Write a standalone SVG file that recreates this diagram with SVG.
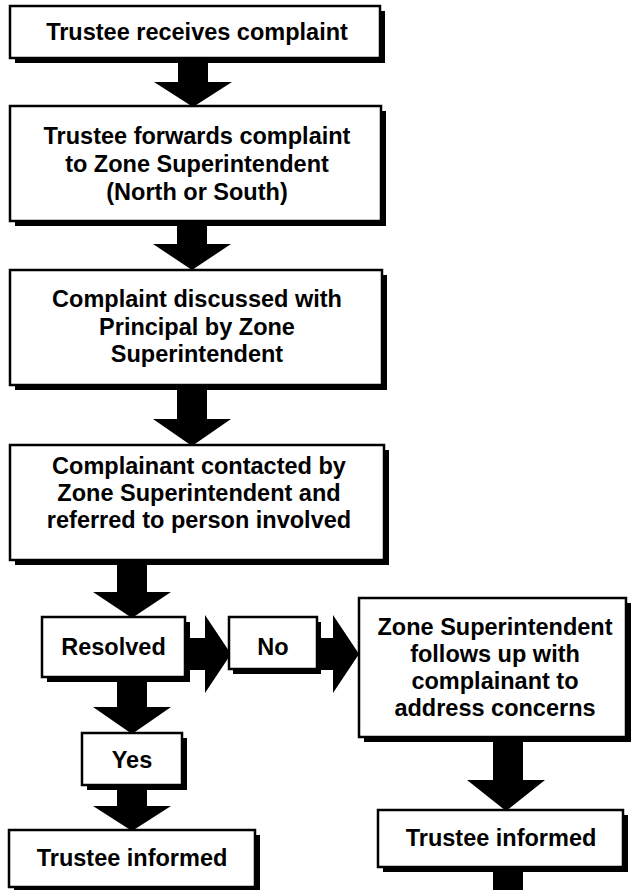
<svg xmlns="http://www.w3.org/2000/svg" width="642" height="890" viewBox="0 0 642 890">
<style>
.bx{fill:#fff;stroke:#000;stroke-width:2.5}
.sh{fill:#000}
.ar{fill:#000}
text{font-family:"Liberation Sans",Arial,sans-serif;font-weight:bold;font-size:23.5px;fill:#000;text-anchor:middle}
</style>
<rect width="642" height="890" fill="#fff"/>
<g id="connectors">
<polygon class="ar" points="178,56 208,56 208,82 232,82 193,107 154,82 178,82"/>
<polygon class="ar" points="177,219 207,219 207,244 231,244 192,270 153,244 177,244"/>
<polygon class="ar" points="177,383 207,383 207,419 231,419 192,446 153,419 177,419"/>
<polygon class="ar" points="117,558 147,558 147,592 171,592 132,618 93,592 117,592"/>
<polygon class="ar" points="117,675 147,675 147,707 171,707 132,734 93,707 117,707"/>
<polygon class="ar" points="117,783 147,783 147,806 171,806 132,831 93,806 117,806"/>
<polygon class="ar" points="493,735 523,735 523,780 545,780 506,811 467,780 493,780"/>
<polygon class="ar" points="493,865 523,865 523,890 493,890"/>
<polygon class="ar" points="183,638 205,638 205,615 231,654 205,693 205,670 183,670"/>
<polygon class="ar" points="315,638 333,638 333,615 359,654 333,693 333,670 315,670"/>
</g>
<g id="n1">
<rect class="sh" x="15" y="11" width="370" height="52"/>
<rect class="bx" x="10" y="6" width="370" height="52"/>
<text x="197" y="40">Trustee receives complaint</text>
</g>
<g id="n2">
<rect class="sh" x="15" y="111" width="371" height="115"/>
<rect class="bx" x="10" y="106" width="371" height="115"/>
<text x="197" y="144">Trustee forwards complaint</text>
<text x="197" y="172">to Zone Superintendent</text>
<text x="197" y="200">(North or South)</text>
</g>
<g id="n3">
<rect class="sh" x="15" y="275" width="372" height="115"/>
<rect class="bx" x="10" y="270" width="372" height="115"/>
<text x="197" y="307">Complaint discussed with</text>
<text x="197" y="335">Principal by Zone</text>
<text x="197" y="362">Superintendent</text>
</g>
<g id="n4">
<rect class="sh" x="15" y="450" width="374" height="115"/>
<rect class="bx" x="10" y="445" width="374" height="115"/>
<text x="199" y="474">Complainant contacted by</text>
<text x="199" y="501">Zone Superintendent and</text>
<text x="199" y="528">referred to person involved</text>
</g>
<g id="n5">
<rect class="sh" x="47" y="622" width="143" height="60"/>
<rect class="bx" x="42" y="617" width="143" height="60"/>
<text x="113.5" y="655">Resolved</text>
</g>
<g id="n6">
<rect class="sh" x="233" y="622" width="88" height="52"/>
<rect class="bx" x="229" y="617" width="88" height="52"/>
<text x="273" y="655">No</text>
</g>
<g id="n7">
<rect class="sh" x="364" y="603" width="267" height="139"/>
<rect class="bx" x="359" y="598" width="267" height="139"/>
<text x="495" y="635">Zone Superintendent</text>
<text x="495" y="662">follows up with</text>
<text x="495" y="689">complainant to</text>
<text x="495" y="716">address concerns</text>
</g>
<g id="n8">
<rect class="sh" x="87" y="738" width="100" height="52"/>
<rect class="bx" x="82" y="733" width="100" height="52"/>
<text x="132" y="768">Yes</text>
</g>
<g id="n9">
<rect class="sh" x="14" y="835" width="246" height="57"/>
<rect class="bx" x="9" y="830" width="246" height="57"/>
<text x="132" y="866">Trustee informed</text>
</g>
<g id="n10">
<rect class="sh" x="383" y="815" width="245" height="57"/>
<rect class="bx" x="378" y="810" width="245" height="57"/>
<text x="501" y="846">Trustee informed</text>
</g>
</svg>
